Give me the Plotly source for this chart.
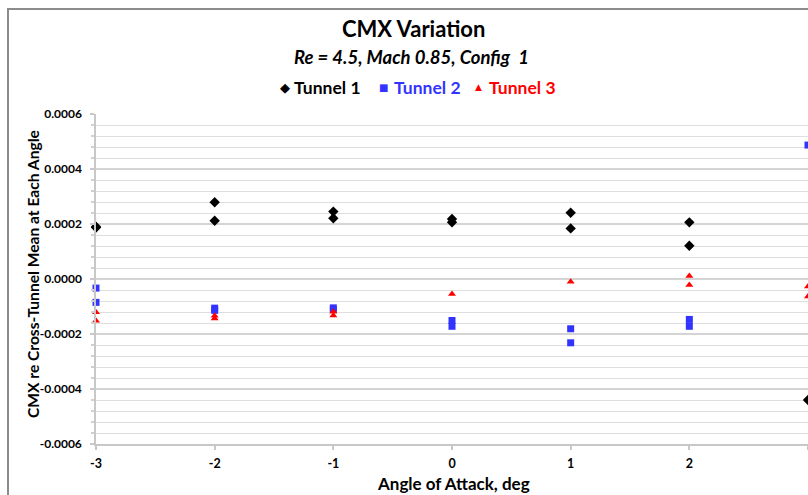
import plotly.graph_objects as go

# Angle of attack (deg) and CMX deviation from cross-tunnel mean
t1_alpha = [-3, -3, -2, -2, -1, -1, 0, 0, 1, 1, 2, 2, 3]
t1_cmx = [0.000190, 0.000187, 0.000279, 0.000212, 0.000245, 0.000221,
          0.000218, 0.000206, 0.000241, 0.000184, 0.000206, 0.000121, -0.000440]

t2_alpha = [-3, -3, -2, -2, -1, -1, 0, 0, 1, 1, 2, 2, 3]
t2_cmx = [-0.000033, -0.000085, -0.000106, -0.000114, -0.000105, -0.000111,
          -0.000151, -0.000172, -0.000181, -0.000232, -0.000147, -0.000172, 0.000487]

t3_alpha = [-3, -3, -2, -2, -1, -1, 0, 1, 2, 2, 3, 3]
t3_cmx = [-0.000121, -0.000152, -0.000134, -0.000144, -0.000119, -0.000133,
          -0.000055, -0.000010, 0.000011, -0.000022, -0.000027, -0.000064]

x_ticks = [-3, -2, -1, 0, 1, 2, 3]
y_ticks = [-0.0006, -0.0004, -0.0002, 0.0, 0.0002, 0.0004, 0.0006]
y_tick_text = ["-0.0006", "-0.0004", "-0.0002", "0.0000", "0.0002", "0.0004", "0.0006"]

BLUE = "#3333FF"
RED = "#FF0000"
BLACK = "#000000"
FONT = "Lato"

W, H = 808, 495
ML, MT, MB, MR = 96, 114, 51, 0
PW = W - ML - MR
PH = H - MT - MB


def px_x(p):
    return (p - ML) / PW


def px_y(p):
    return (H - MB - p) / PH


fig = go.Figure()
fig.add_trace(go.Scatter(x=t1_alpha, y=t1_cmx, mode="markers", name="Tunnel 1",
                         marker=dict(symbol="diamond", size=8, color=BLACK),
                         cliponaxis=False, showlegend=False))
fig.add_trace(go.Scatter(x=t2_alpha, y=t2_cmx, mode="markers", name="Tunnel 2",
                         marker=dict(symbol="square", size=7, color=BLUE),
                         cliponaxis=False, showlegend=False))
fig.add_trace(go.Scatter(x=t3_alpha, y=t3_cmx, mode="markers", name="Tunnel 3",
                         marker=dict(symbol="triangle-up", size=7, color=RED),
                         cliponaxis=False, showlegend=False))

annotations = [
    dict(text="<b>CMX Variation</b>", x=px_x(413), y=px_y(28),
         font=dict(family=FONT, size=22, color=BLACK)),
    dict(text="<b><i>Re = 4.5, Mach 0.85, Config  1</i></b>", x=px_x(411), y=px_y(57),
         font=dict(family=FONT, size=18.5, color=BLACK)),
    dict(text="<b>Angle of Attack, deg</b>", x=px_x(453), y=px_y(484),
         font=dict(family=FONT, size=17, color=BLACK)),
    dict(text="<b>CMX re Cross-Tunnel Mean at Each Angle</b>", x=px_x(33), y=px_y(274),
         textangle=-90, font=dict(family=FONT, size=15.6, color=BLACK)),
]

# legend row: symbol + coloured label for each tunnel
legend_items = [
    ("◆", 285, 13, BLACK, "Tunnel 1", 292),
    ("■", 383, 10, BLUE, "Tunnel 2", 392),
    ("▲", 479, 9, RED, "Tunnel 3", 487),
]
for sym, sx, ssize, col, label, tx in legend_items:
    annotations.append(dict(text=sym, x=px_x(sx), y=px_y(87), xanchor="center",
                            font=dict(family="DejaVu Sans", size=ssize, color=col)))
    annotations.append(dict(text="<b>" + label + "</b>", x=px_x(tx), y=px_y(87),
                            xanchor="left", font=dict(family=FONT, size=17.5, color=col)))

for a in annotations:
    a.setdefault("xref", "paper")
    a.setdefault("yref", "paper")
    a.setdefault("showarrow", False)
    a.setdefault("yanchor", "middle")
    a.setdefault("xanchor", "center")

fig.update_layout(
    width=W, height=H,
    margin=dict(l=ML, r=MR, t=MT, b=MB, pad=0),
    paper_bgcolor="white", plot_bgcolor="white",
    annotations=annotations,
    shapes=[dict(type="rect", xref="paper", yref="paper",
                 x0=px_x(8), x1=px_x(830), y0=px_y(520), y1=px_y(9),
                 line=dict(color="#8C8C8C", width=2), layer="below")],
    xaxis=dict(
        range=[-3, 3], tickvals=x_ticks, ticktext=[str(v) for v in x_ticks],
        showgrid=False, zeroline=False, showline=True, linecolor="#C8C8C8", linewidth=1.5,
        ticks="outside", ticklen=4, tickcolor="#C8C8C8", tickwidth=1.5,
        tickfont=dict(family=FONT, size=12.5, color=BLACK, weight="bold"),
        ticklabelstandoff=3,
    ),
    yaxis=dict(
        range=[-0.0006, 0.0006], tickvals=y_ticks, ticktext=y_tick_text,
        showgrid=True, gridcolor="#D4D4D4", gridwidth=1.5,
        zeroline=False, showline=True, linecolor="#C8C8C8", linewidth=1.5,
        ticks="outside", ticklen=4, tickcolor="#C8C8C8", tickwidth=1.5,
        tickfont=dict(family=FONT, size=12, color=BLACK, weight="bold"),
        ticklabelstandoff=6,
        minor=dict(dtick=0.00004, tick0=0, showgrid=True, gridcolor="#DEDEDE", gridwidth=1.2,
                   ticks="outside", ticklen=3, tickcolor="#D0D0D0"),
    ),
)

fig.write_html("out.html")
